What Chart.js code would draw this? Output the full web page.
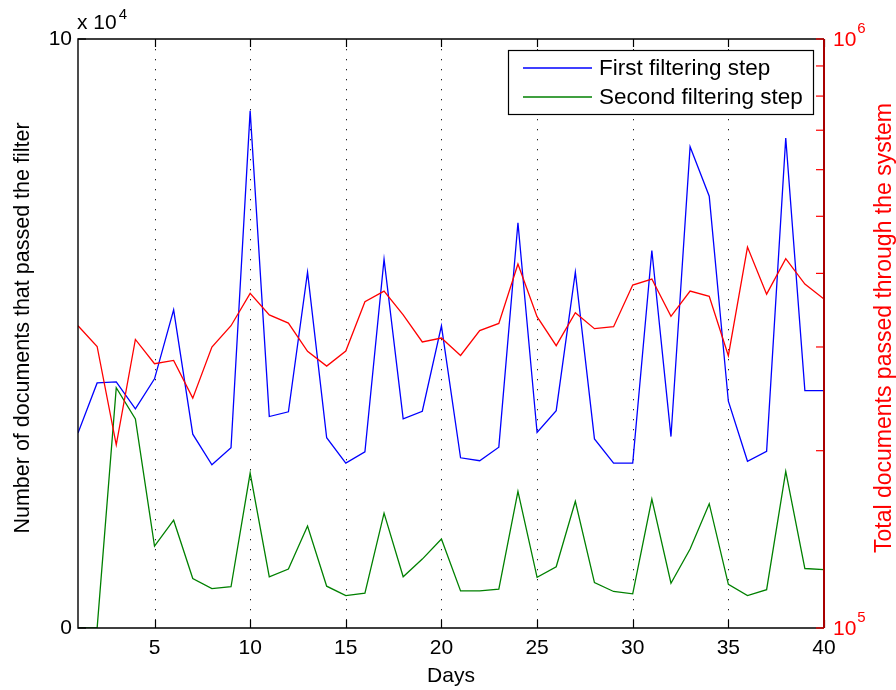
<!DOCTYPE html>
<html><head><meta charset="utf-8">
<script src="https://cdn.jsdelivr.net/npm/chart.js@4/dist/chart.umd.min.js"></script>
<style>html,body{margin:0;padding:0;background:#fff}canvas{display:block}</style>
</head><body>
<canvas id="c" width="896" height="690"></canvas>
<script>
const days = [1,2,3,4,5,6,7,8,9,10,11,12,13,14,15,16,17,18,19,20,21,22,23,24,25,26,27,28,29,30,31,32,33,34,35,36,37,38,39,40];
const firstStep = [33100,41600,41800,37200,42300,54000,32900,27700,30600,87800,35900,36700,60400,32300,28000,29900,62600,35500,36800,51300,28900,28400,30700,68800,33200,36900,60400,32100,28000,28000,64100,32500,81700,73300,38500,28300,30000,83200,40300,40300];
const secondStep = [0,0,40800,35500,13900,18300,8400,6700,7000,26300,8700,10000,17300,7100,5500,5900,19500,8700,11700,15100,6300,6300,6600,23200,8600,10400,21500,7700,6200,5800,21900,7600,13400,21100,7400,5500,6500,26600,10100,9900];
const totalDocs = [326000,300600,204700,309000,281000,284700,245600,299900,326000,369900,340000,329300,294900,278400,295200,358000,373300,340000,305900,310700,290200,319800,328900,415000,337800,301500,343000,322300,324800,382200,391300,338100,373300,365600,289900,443400,368800,423600,383600,361900];
const xTicks = [5,10,15,20,25,30,35,40];
const leftTicks = [0,100000];
const rightLabelTicks = [100000,1000000];
const rightLabelExp = ['5','6'];
const rightMinorTicks = [100000,200000,300000,400000,500000,600000,700000,800000,900000,1000000];
const seriesNames = ['First filtering step','Second filtering step'];
const xTitle = 'Days';
const leftTitle = 'Number of documents that passed the filter';
const rightTitle = 'Total documents passed through the system';

const FONT = '"Liberation Sans", Arial, Helvetica, sans-serif';
const BLUE = '#0000ff', GREEN = '#008000', RED = '#ff0000';

const pts = arr => days.map((d,i)=>({x:d,y:arr[i]}));

const decor = {
  id:'decor',
  beforeDatasetsDraw(chart){
    const {ctx, chartArea:a, scales:{x}} = chart;
    ctx.save();
    ctx.strokeStyle = '#222';
    ctx.lineWidth = 1;
    ctx.setLineDash([1.3,8.7]);
    xTicks.forEach(v=>{
      if (v>=40) return;
      const px = Math.round(x.getPixelForValue(v))+0.5;
      ctx.beginPath(); ctx.moveTo(px,a.top); ctx.lineTo(px,a.bottom); ctx.stroke();
    });
    ctx.restore();
  },
  afterDatasetsDraw(chart){
    const {ctx, chartArea:a, scales:{x,y,y2}} = chart;
    ctx.save();
    ctx.strokeStyle = '#000'; ctx.lineWidth = 1.2;
    xTicks.forEach(v=>{
      const px = Math.round(x.getPixelForValue(v))+0.5;
      ctx.beginPath(); ctx.moveTo(px,a.bottom); ctx.lineTo(px,a.bottom-8); ctx.stroke();
      ctx.beginPath(); ctx.moveTo(px,a.top); ctx.lineTo(px,a.top+8); ctx.stroke();
    });
    leftTicks.forEach(v=>{
      const py = y.getPixelForValue(v);
      ctx.beginPath(); ctx.moveTo(a.left,py); ctx.lineTo(a.left+8,py); ctx.stroke();
    });
    ctx.lineWidth = 1.4;
    ctx.beginPath();
    ctx.moveTo(a.right,a.top); ctx.lineTo(a.left,a.top); ctx.lineTo(a.left,a.bottom); ctx.lineTo(a.right,a.bottom);
    ctx.stroke();
    ctx.strokeStyle = RED; ctx.lineWidth = 1.2;
    rightMinorTicks.forEach(v=>{
      const py = y2.getPixelForValue(v);
      ctx.beginPath(); ctx.moveTo(a.right,py); ctx.lineTo(a.right-8,py); ctx.stroke();
    });
    ctx.strokeStyle = '#a80000'; ctx.lineWidth = 2;
    ctx.beginPath(); ctx.moveTo(a.right,a.top); ctx.lineTo(a.right,a.bottom); ctx.stroke();
    ctx.fillStyle = RED; ctx.textAlign = 'left';
    rightLabelTicks.forEach((v,i)=>{
      const py = y2.getPixelForValue(v);
      ctx.font = '21px '+FONT; ctx.textBaseline = 'middle';
      ctx.fillText('10', a.right+9, py+1);
      const w = ctx.measureText('10').width;
      ctx.font = '15px '+FONT; ctx.textBaseline = 'alphabetic';
      ctx.fillText(rightLabelExp[i], a.right+10+w, py-6);
    });
    ctx.fillStyle = '#000';
    ctx.font = '21px '+FONT; ctx.textBaseline = 'alphabetic';
    ctx.fillText('x 10', a.left-1, 29);
    const w4 = ctx.measureText('x 10').width;
    ctx.font = '15px '+FONT;
    ctx.fillText('4', a.left+w4+1, 19);
    ctx.font = '21px '+FONT; ctx.textAlign = 'center';
    ctx.fillText(xTitle, (a.left+a.right)/2, 682);
    ctx.font = '21.5px '+FONT;
    ctx.save(); ctx.translate(28.5, 328); ctx.rotate(-Math.PI/2);
    ctx.fillText(leftTitle, 0, 0); ctx.restore();
    ctx.fillStyle = RED;
    ctx.font = '23px '+FONT;
    ctx.save(); ctx.translate(891, 328); ctx.rotate(-Math.PI/2);
    ctx.fillText(rightTitle, 0, 0); ctx.restore();
    const lx = 508.5, ly = 50.5, lw = 305, lh = 64;
    ctx.fillStyle = '#fff'; ctx.fillRect(lx,ly,lw,lh);
    ctx.strokeStyle = '#000'; ctx.lineWidth = 1.2; ctx.strokeRect(lx,ly,lw,lh);
    const cols = [BLUE, GREEN], rows = [68, 97];
    ctx.font = '22.5px '+FONT; ctx.textAlign = 'left'; ctx.textBaseline = 'middle';
    seriesNames.forEach((n,i)=>{
      ctx.strokeStyle = cols[i]; ctx.lineWidth = 1.3;
      ctx.beginPath(); ctx.moveTo(523,rows[i]); ctx.lineTo(592,rows[i]); ctx.stroke();
      ctx.fillStyle = '#000'; ctx.fillText(n, 599, rows[i]+1);
    });
    ctx.restore();
  }
};

new Chart(document.getElementById('c'), {
  type:'line',
  data:{ datasets:[
    {label:'Total documents', data:pts(totalDocs), yAxisID:'y2', borderColor:RED, order:0},
    {label:seriesNames[0], data:pts(firstStep), yAxisID:'y', borderColor:BLUE, order:1},
    {label:seriesNames[1], data:pts(secondStep), yAxisID:'y', borderColor:GREEN, order:2}
  ]},
  options:{
    responsive:false, animation:false, devicePixelRatio:1,
    layout:{padding:{top:39,left:0,right:0,bottom:0}},
    elements:{line:{borderWidth:1.3, tension:0, fill:false}, point:{radius:0, hoverRadius:0}},
    plugins:{legend:{display:false}, tooltip:{enabled:false}, title:{display:false}},
    events:[],
    scales:{
      x:{type:'linear', min:1, max:40,
        afterBuildTicks:s=>{s.ticks = xTicks.map(v=>({value:v}));},
        afterFit:s=>{s.height=62;},
        grid:{display:false, drawTicks:false}, border:{display:false},
        ticks:{color:'#000', font:{family:FONT, size:21}, padding:8, maxRotation:0, autoSkip:false}},
      y:{type:'linear', position:'left', min:0, max:100000,
        afterBuildTicks:s=>{s.ticks = leftTicks.map(v=>({value:v}));},
        afterFit:s=>{s.width=78;},
        grid:{display:false, drawTicks:false}, border:{display:false},
        ticks:{color:'#000', font:{family:FONT, size:21}, padding:6, callback:v=>String(v/10000)}},
      y2:{type:'logarithmic', position:'right', min:100000, max:1000000,
        afterBuildTicks:s=>{s.ticks = rightMinorTicks.map(v=>({value:v}));},
        afterFit:s=>{s.width=72;},
        grid:{display:false, drawTicks:false}, border:{display:false},
        ticks:{display:false}}
    }
  },
  plugins:[decor]
});
</script>
</body></html>
